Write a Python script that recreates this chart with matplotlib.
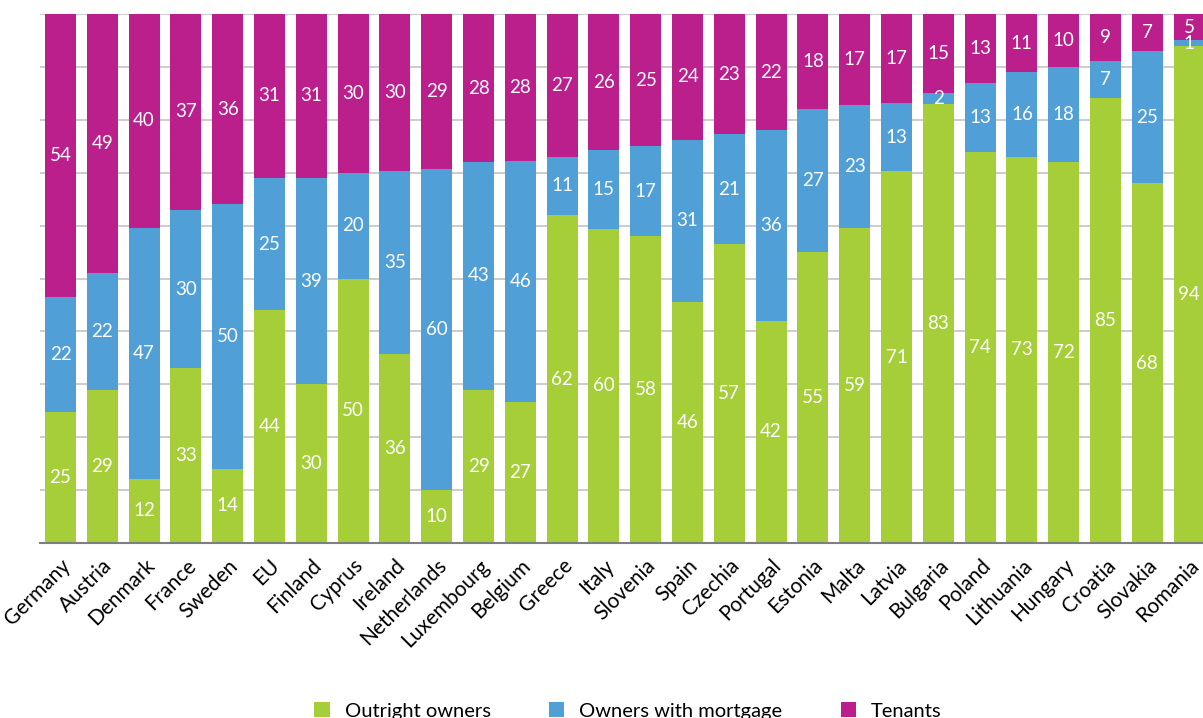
import matplotlib
matplotlib.use("Agg")
import matplotlib.pyplot as plt
import numpy as np

countries = ["Germany", "Austria", "Denmark", "France", "Sweden", "EU", "Finland", "Cyprus",
             "Ireland", "Netherlands", "Luxembourg", "Belgium", "Greece", "Italy", "Slovenia",
             "Spain", "Czechia", "Portugal", "Estonia", "Malta", "Latvia", "Bulgaria", "Poland",
             "Lithuania", "Hungary", "Croatia", "Slovakia", "Romania"]
outright = [25, 29, 12, 33, 14, 44, 30, 50, 36, 10, 29, 27, 62, 60, 58, 46, 57, 42, 55, 59,
            71, 83, 74, 73, 72, 85, 68, 94]
mortgage = [22, 22, 47, 30, 50, 25, 39, 20, 35, 60, 43, 46, 11, 15, 17, 31, 21, 36, 27, 23,
            13, 2, 13, 16, 18, 7, 25, 1]
tenants = [54, 49, 40, 37, 36, 31, 31, 30, 30, 29, 28, 28, 27, 26, 25, 24, 23, 22, 18, 17,
           17, 15, 13, 11, 10, 9, 7, 5]
series_names = ["Outright owners", "Owners with mortgage", "Tenants"]
colors = ["#A6CE39", "#519FD7", "#BA1F8C"]

plt.rcParams['font.family'] = ['Lato', 'DejaVu Sans']

W, H = 1203, 718
fig = plt.figure(figsize=(W / 100, H / 100), dpi=100)
left_px, right_px, top_px, bot_px = 40, 1203, 14, 543
ax = fig.add_axes([left_px / W, 1 - bot_px / H, (right_px - left_px) / W, (bot_px - top_px) / H])

data = np.array([outright, mortgage, tenants], dtype=float)
totals = data.sum(axis=0)
shares = data / totals * 100  # bars are shown as shares of 100 %

x = np.arange(len(countries))
width = 0.74
bottom = np.zeros(len(countries))
for vals, share, name, c in zip(data, shares, series_names, colors):
    ax.bar(x, share, width, bottom=bottom, color=c, label=name, zorder=3)
    for xi, b, v, s in zip(x, bottom, vals, share):
        ax.text(xi, b + s / 2, f"{int(v)}", ha='center', va='center', color='white',
                fontsize=13.5, zorder=4)
    bottom += share

ax.set_ylim(0, 100)
ax.set_xlim((left_px - 60.5) / 41.8, (right_px - 60.5) / 41.8)
ax.set_yticks(np.arange(0, 101, 10))
ax.set_yticklabels([])
ax.tick_params(axis='y', length=0)
ax.yaxis.grid(True, color='#c8c8c8', linewidth=1.3, zorder=0)
ax.set_axisbelow(True)
for s in ['left', 'right', 'top']:
    ax.spines[s].set_visible(False)
ax.spines['bottom'].set_color('#7f7f7f')
ax.spines['bottom'].set_linewidth(1.5)
ax.spines['bottom'].set_zorder(5)

ax.set_xticks(x)
ax.set_xticklabels(countries, rotation=45, ha='right', rotation_mode='anchor', fontsize=15)
ax.tick_params(axis='x', length=0, pad=9)

handles, labels = ax.get_legend_handles_labels()
fig.legend(handles, labels, loc='upper center', bbox_to_anchor=(628 / W, 1 - 684 / H),
           ncol=3, frameon=False, fontsize=14.5, handlelength=0.75, handleheight=0.75,
           handletextpad=0.75, columnspacing=2.9)

fig.savefig("out.png", dpi=100)
